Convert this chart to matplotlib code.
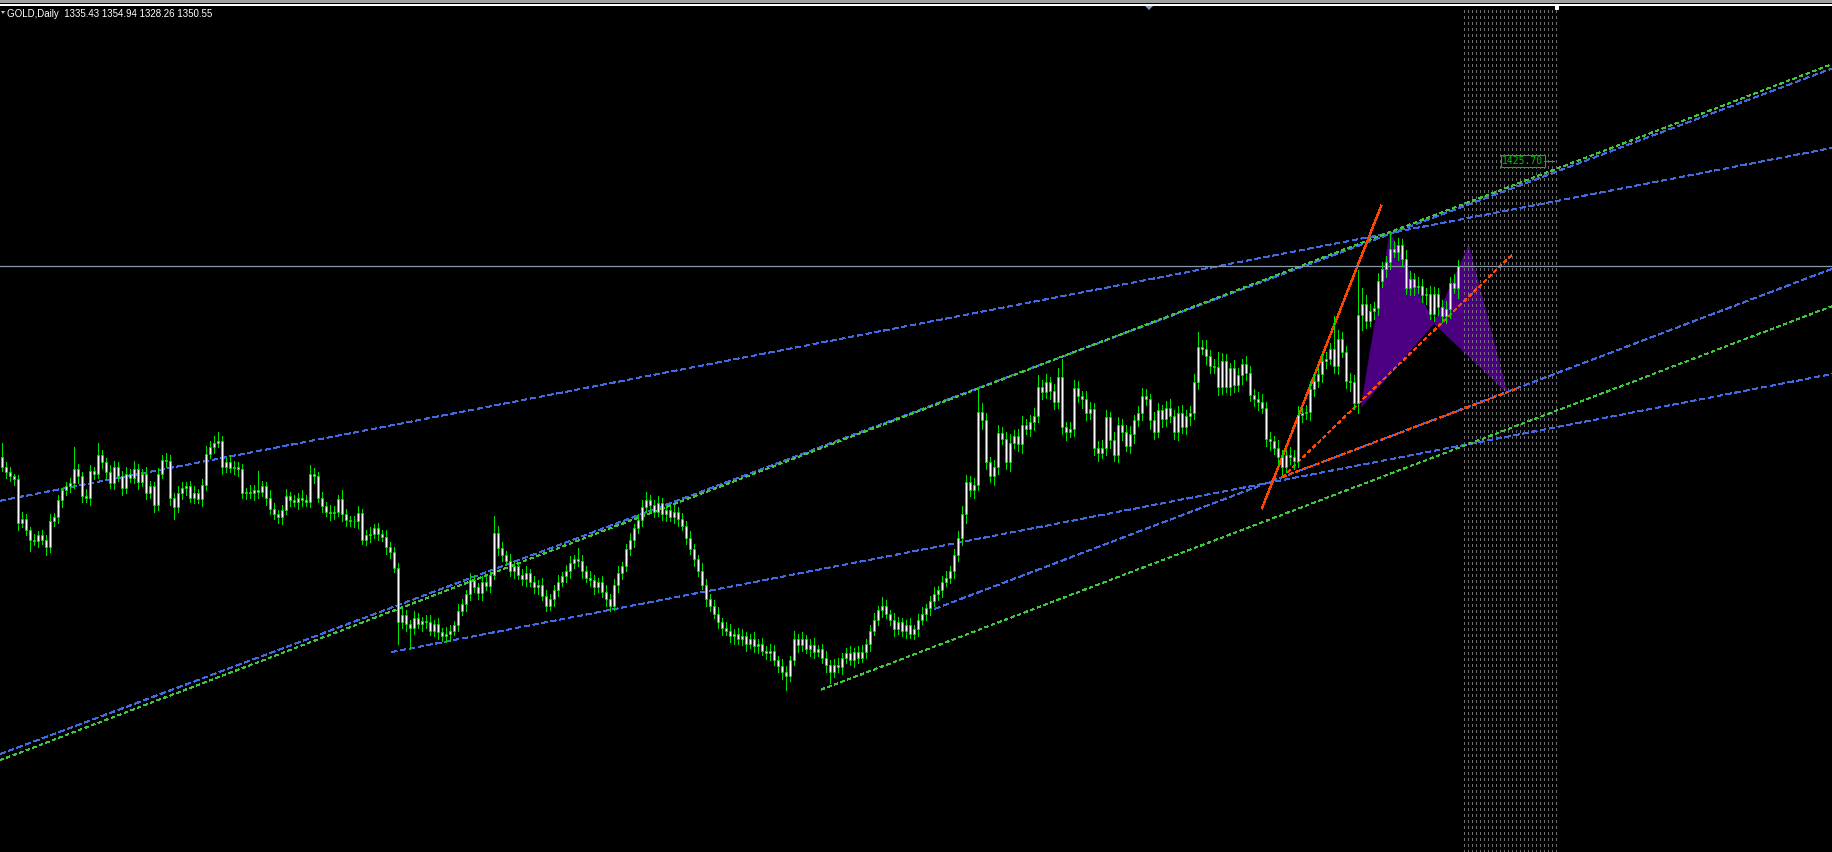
import numpy as np
import matplotlib.pyplot as plt
from matplotlib.patches import Polygon, Rectangle

plt.rcParams['lines.scale_dashes'] = False

# ---- chart data (prices) ----
symbol_label = "GOLD,Daily"
last_ohlc = [1335.43, 1354.94, 1328.26, 1350.55]
first_open = 1215

closes = [
    1208, 1204, 1201, 1199, 1168, 1171, 1163, 1156, 1155, 1159, 1156, 1151, 1169, 1172, 1184, 1191, 1194, 1196, 1206, 1201,
    1187, 1186, 1205, 1203, 1216, 1211, 1204, 1196, 1208, 1201, 1193, 1203, 1200, 1206, 1197, 1203, 1189, 1194, 1181, 1203,
    1213, 1212, 1186, 1179, 1189, 1193, 1194, 1186, 1189, 1185, 1195, 1217, 1222, 1225, 1226, 1208, 1211, 1207, 1208, 1206,
    1189, 1190, 1189, 1191, 1190, 1194, 1186, 1178, 1174, 1172, 1177, 1187, 1184, 1183, 1186, 1184, 1183, 1203, 1201, 1186,
    1180, 1176, 1175, 1176, 1185, 1174, 1170, 1169, 1169, 1175, 1156, 1159, 1160, 1164, 1160, 1158, 1151, 1147, 1136, 1097,
    1102, 1096, 1093, 1100, 1096, 1098, 1097, 1091, 1096, 1090, 1087, 1089, 1091, 1095, 1105, 1110, 1117, 1127, 1122, 1118,
    1126, 1123, 1131, 1161, 1150, 1145, 1141, 1134, 1137, 1131, 1128, 1132, 1126, 1122, 1124, 1116, 1109, 1114, 1120, 1126,
    1130, 1134, 1139, 1142, 1141, 1134, 1129, 1127, 1122, 1126, 1119, 1114, 1109, 1124, 1132, 1137, 1149, 1156, 1164, 1170,
    1179, 1184, 1181, 1176, 1182, 1174, 1177, 1172, 1176, 1171, 1166, 1157, 1149, 1142, 1134, 1124, 1114, 1109, 1103, 1097,
    1093, 1091, 1087, 1089, 1085, 1087, 1082, 1085, 1080, 1082, 1077, 1075, 1077, 1070, 1066, 1062, 1059, 1070, 1085, 1081,
    1085, 1078, 1081, 1076, 1078, 1072, 1067, 1062, 1067, 1065, 1072, 1075, 1070, 1076, 1072, 1076, 1082, 1091, 1099, 1106,
    1109, 1103, 1099, 1092, 1097, 1091, 1095, 1089, 1092, 1099, 1103, 1107, 1112, 1117, 1120, 1126, 1129, 1134, 1145, 1157,
    1174, 1197, 1191, 1195, 1247, 1241, 1211, 1201, 1208, 1232, 1228, 1211, 1225, 1230, 1224, 1238, 1235, 1240, 1244, 1265,
    1261, 1268, 1262, 1254, 1272, 1236, 1233, 1235, 1264, 1258, 1256, 1246, 1249, 1221, 1218, 1221, 1243, 1227, 1216, 1238,
    1233, 1223, 1231, 1241, 1246, 1258, 1256, 1241, 1233, 1248, 1242, 1250, 1244, 1233, 1246, 1236, 1244, 1246, 1268, 1293,
    1292, 1287, 1280, 1279, 1265, 1283, 1265, 1278, 1266, 1273, 1281, 1275, 1259, 1256, 1254, 1250, 1228, 1226, 1221, 1215,
    1208, 1216, 1215, 1212, 1245, 1246, 1247, 1263, 1269, 1274, 1283, 1285, 1292, 1280, 1299, 1290, 1269, 1268, 1253, 1316,
    1324, 1312, 1319, 1321, 1340, 1349, 1354, 1363, 1361, 1366, 1356, 1335, 1342, 1336, 1337, 1330, 1331, 1317, 1331, 1322,
    1315, 1320, 1339, 1335.43, 1350.55,
]

upper_wicks = [
    10, 3, 4, 2, 3, 5, 3, 2, 4, 3, 4, 3, 5, 3, 4, 2, 3, 4, 16, 4,
    3, 5, 4, 3, 9, 4, 3, 5, 4, 3, 4, 5, 3, 6, 4, 3, 5, 4, 3, 4,
    3, 5, 4, 3, 5, 4, 3, 4, 5, 3, 4, 6, 4, 5, 7, 4, 3, 5, 4, 3,
    4, 3, 5, 4, 14, 4, 3, 5, 4, 3, 4, 5, 3, 4, 3, 5, 4, 6, 4, 3,
    4, 3, 5, 4, 3, 6, 4, 3, 4, 5, 3, 4, 5, 3, 4, 3, 5, 3, 4, 3,
    5, 4, 3, 5, 4, 3, 4, 5, 3, 4, 3, 5, 4, 3, 5, 4, 3, 5, 4, 3,
    4, 5, 3, 12, 5, 4, 3, 5, 4, 3, 4, 5, 3, 4, 3, 5, 4, 3, 4, 5,
    3, 4, 5, 3, 8, 4, 3, 5, 4, 3, 4, 5, 3, 4, 5, 3, 4, 5, 3, 4,
    5, 6, 4, 3, 5, 4, 3, 4, 5, 3, 4, 3, 5, 4, 3, 5, 4, 3, 4, 5,
    3, 4, 5, 3, 4, 5, 3, 4, 5, 3, 4, 3, 5, 4, 3, 5, 4, 3, 6, 4,
    5, 3, 4, 5, 3, 4, 5, 3, 4, 5, 3, 4, 5, 3, 4, 5, 3, 4, 5, 3,
    6, 4, 3, 5, 4, 3, 4, 5, 3, 4, 5, 3, 4, 5, 3, 4, 5, 3, 4, 5,
    6, 5, 4, 5, 17, 6, 5, 4, 5, 6, 4, 5, 6, 4, 5, 6, 4, 5, 6, 8,
    5, 6, 4, 5, 6, 13, 4, 5, 6, 5, 4, 6, 5, 4, 5, 6, 5, 4, 6, 5,
    4, 5, 6, 4, 5, 6, 5, 4, 6, 5, 4, 5, 6, 4, 5, 6, 4, 5, 6, 11,
    5, 6, 4, 5, 11, 6, 5, 4, 6, 5, 4, 6, 5, 4, 5, 6, 4, 5, 4, 6,
    5, 4, 6, 5, 6, 4, 5, 6, 5, 4, 6, 5, 4, 23, 6, 5, 4, 6, 5, 32,
    11, 6, 5, 4, 6, 5, 4, 11, 6, 5, 4, 6, 5, 4, 6, 5, 4, 6, 5, 4,
    5, 6, 4, 6, 4.39,
]

lower_wicks = [
    3, 4, 3, 4, 5, 3, 4, 8, 3, 4, 3, 6, 4, 3, 4, 5, 3, 4, 3, 5,
    4, 3, 5, 4, 3, 4, 5, 3, 4, 3, 5, 4, 3, 4, 5, 3, 4, 3, 5, 4,
    3, 4, 5, 8, 3, 4, 5, 3, 4, 3, 5, 4, 3, 4, 3, 5, 4, 3, 4, 5,
    3, 4, 3, 5, 4, 3, 5, 4, 3, 4, 5, 3, 4, 3, 5, 4, 3, 4, 5, 3,
    4, 3, 5, 4, 3, 5, 4, 3, 4, 5, 3, 4, 5, 3, 4, 3, 5, 4, 3, 15,
    4, 5, 14, 4, 3, 5, 4, 3, 4, 5, 3, 4, 5, 3, 4, 3, 5, 4, 3, 4,
    5, 3, 4, 3, 5, 4, 3, 4, 5, 3, 4, 5, 3, 4, 5, 3, 4, 3, 5, 4,
    3, 4, 5, 3, 4, 5, 3, 4, 5, 3, 4, 5, 4, 3, 5, 4, 3, 4, 5, 3,
    4, 3, 5, 4, 3, 4, 5, 3, 4, 5, 3, 4, 3, 5, 4, 3, 5, 4, 3, 4,
    5, 3, 4, 5, 3, 4, 5, 3, 4, 5, 3, 4, 5, 3, 4, 5, 10, 4, 3, 5,
    4, 3, 5, 4, 3, 4, 5, 8, 4, 3, 5, 4, 3, 5, 4, 3, 4, 5, 3, 4,
    5, 3, 4, 5, 3, 4, 5, 3, 4, 5, 3, 4, 5, 3, 4, 5, 3, 4, 5, 4,
    5, 6, 4, 5, 4, 6, 5, 4, 6, 5, 4, 5, 6, 4, 5, 6, 4, 5, 6, 4,
    5, 4, 6, 5, 4, 5, 6, 4, 5, 4, 6, 5, 4, 5, 6, 4, 5, 6, 4, 5,
    6, 4, 5, 6, 4, 5, 4, 6, 5, 4, 6, 5, 4, 5, 6, 4, 5, 6, 4, 5,
    4, 6, 5, 4, 6, 5, 4, 6, 5, 4, 6, 5, 4, 5, 6, 4, 5, 6, 4, 5,
    6, 4, 5, 6, 4, 5, 4, 6, 5, 4, 6, 5, 4, 5, 6, 4, 5, 6, 4, 7,
    11, 5, 4, 6, 5, 4, 6, 5, 4, 6, 5, 4, 5, 6, 4, 5, 6, 4, 5, 6,
    4, 5, 6, 4, 7.17,
]

bid_price = 1350.55
label_price = 1425.70

# trend lines as (bar, price) anchor pairs
blue_lines = [
    [(-0.5, 1183.7), (457.5, 1435.0)],
    [(-0.5, 1003.2), (457.5, 1491.6)],
    [(233.2, 1106.7), (457.5, 1348.9)],
    [(97.4, 1075.9), (457.5, 1274.0)],
]
green_lines = [
    [(-0.5, 998.9), (457.5, 1494.7)],
    [(204.8, 1049.2), (457.5, 1322.3)],
]
orange_solid = [(315.0, 1178.3), (344.8, 1393.8)]
orange_dashed = [
    [(320.2, 1200.7), (377.5, 1358.9)],
    [(320.2, 1200.7), (379.2, 1264.0)],
]
# harmonic pattern X, A, B, C, D
pattern_x = [339.8, 347.0, 358.0, 366.7, 376.3]
pattern_y = [1250.7, 1375.0, 1310.0, 1365.6, 1260.7]

# ---- colours ----
BG = 'black'
CANDLE = '#00e000'
BLUE = '#4169e1'
GREEN = '#3cc83c'
ORANGE = '#ff4500'
PURPLE = '#4b0082'

W, H = 1832, 852
fig = plt.figure(figsize=(W / 100, H / 100), dpi=100, facecolor=BG)
ax = fig.add_axes([0, 0, 1, (H - 6) / H])
ax.set_facecolor(BG)
ax.set_xlim(-0.5, 457.5)
ax.set_ylim(933.5, 1536.1)
for s in ax.spines.values():
    s.set_visible(False)
ax.set_xticks([])
ax.set_yticks([])

n = len(closes)
idx = np.arange(n)
c = np.array(closes, dtype=float)
o = np.array([first_open] + closes[:-1], dtype=float)
hi = np.maximum(o, c) + np.array(upper_wicks)
lo = np.minimum(o, c) - np.array(lower_wicks)

# harmonic pattern triangles
px, py = pattern_x, pattern_y
for tri in ([0, 1, 2], [2, 3, 4]):
    ax.add_patch(Polygon([(px[k], py[k]) for k in tri], closed=True,
                         facecolor=PURPLE, edgecolor=PURPLE, lw=0.5, zorder=1))

# dotted future-bar grid
grid_x = np.arange(n + 0.5, n + 24, 1.0)
ax.vlines(grid_x, 933.5, 1536.1, colors='#8a8a8a', linewidth=0.72,
          linestyles=(0, (2.0, 2.3)), alpha=0.8, zorder=2, antialiased=False)

# trend lines
for (x0, y0), (x1, y1) in blue_lines:
    ax.plot([x0, x1], [y0, y1], color=BLUE, lw=0.8, dashes=(3.6, 2.2),
            zorder=3, antialiased=False)
for (x0, y0), (x1, y1) in green_lines:
    ax.plot([x0, x1], [y0, y1], color=GREEN, lw=0.8, dashes=(2.2, 2.2),
            zorder=3, antialiased=False)
for (x0, y0), (x1, y1) in orange_dashed:
    ax.plot([x0, x1], [y0, y1], color=ORANGE, lw=0.8, dashes=(2.2, 2.2),
            zorder=3, antialiased=False)
ax.plot([p[0] for p in orange_solid], [p[1] for p in orange_solid],
        color=ORANGE, lw=0.9, zorder=3, antialiased=False)

# bid line
ax.axhline(bid_price, color='#8898aa', lw=0.9, zorder=3)

# candles: thin green wicks, white bodies with green outline
ax.vlines(idx, lo, hi, colors=CANDLE, linewidth=0.72, zorder=4, antialiased=False)
ax.bar(idx, np.abs(c - o), bottom=np.minimum(o, c), width=0.62,
       color='white', edgecolor=CANDLE, linewidth=0.6, zorder=5)

# price label
ax.text(n + 10.0, label_price, f"{label_price:.2f}", fontsize=7,
        family='DejaVu Sans Mono', color='#00c000', va='center', ha='left',
        bbox=dict(facecolor='black', edgecolor='#00c000', boxstyle='square,pad=0.15', lw=0.8),
        zorder=6)
ax.plot([n + 20.5, n + 23.0], [label_price, label_price], color='#00c000', lw=0.8, zorder=6)

# top bar of the terminal window
def fy(py_):
    return 1 - py_ / H

fig.patches.append(Rectangle((0, fy(3)), 1, 3 / H, transform=fig.transFigure,
                             facecolor='#a0a0a0', edgecolor='none'))
fig.patches.append(Rectangle((0, fy(5.5)), 1, 1.5 / H, transform=fig.transFigure,
                             facecolor='white', edgecolor='none'))
fig.patches.append(Polygon([(1145 / W, fy(6)), (1153 / W, fy(6)), (1149 / W, fy(10))],
                           closed=True, transform=fig.transFigure,
                           facecolor='#8a9aa8', edgecolor='none'))
fig.patches.append(Rectangle((1555 / W, fy(10)), 4 / W, 4 / H, transform=fig.transFigure,
                             facecolor='white', edgecolor='none'))
fig.patches.append(Polygon([(1 / W, fy(11)), (5 / W, fy(11)), (3 / W, fy(14))],
                           closed=True, transform=fig.transFigure,
                           facecolor='#c0c8d0', edgecolor='none'))

header = f"{symbol_label}  " + " ".join(f"{v:.2f}" for v in last_ohlc)
fig.text(7 / W, fy(14), header, color='white', fontsize=7,
         family='Liberation Sans', va='center', ha='left')

fig.savefig('out.png', dpi=100, facecolor=BG)
